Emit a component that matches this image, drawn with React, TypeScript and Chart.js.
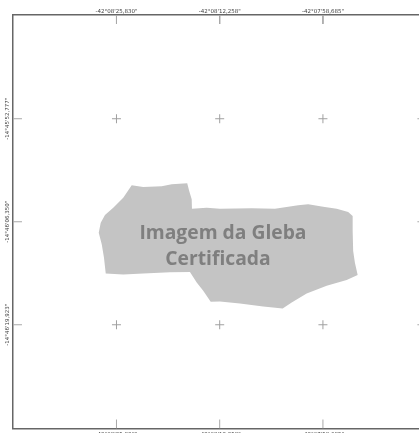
import React, { useEffect, useRef } from "react";
import { Chart, registerables } from "chart.js";

Chart.register(...registerables);

// Local map values in metres from the sheet centre
const gridEast = [-413, 0, 413];
const gridNorth = [413, 0, -413];
const lonLabels = ["-42°08'25,830\"", "-42°08'12,258\"", "-42°07'58,685\""];
const latLabels = ["-14°45'52,777\"", "-14°46'06,350\"", "-14°46'19,923\""];
const parcelEast = [-352, -306, -232, -192, -130, -122, -112, -111, -52, 1, 128, 221, 314, 354, 414, 468, 514, 532, 532, 534, 541, 552, 508, 428, 348, 288, 252, 174, 81, 1, -36, -66, -92, -119, -199, -306, -386, -456, -463, -472, -484, -476, -459, -426, -386];
const parcelNorth = [146, 139, 142, 150, 154, 123, 90, 52, 56, 52, 54, 52, 66, 70, 60, 52, 39, 23, -37, -117, -164, -214, -234, -257, -288, -324, -348, -340, -328, -320, -321, -277, -244, -201, -202, -208, -212, -208, -144, -90, -44, -4, 27, 56, 96];
const captionLines = ["Imagem da Gleba", "Certificada"];
const captionEast = [13, -7];
const captionNorth = [-46, -152];

const X_MIN = -827;
const X_MAX = 827;
const Y_MIN = -829;
const Y_MAX = 829;
const EDGE_TICK = 36;

const parcel = parcelEast.map((x, i) => ({ x, y: parcelNorth[i] }));
const crosses = gridEast.flatMap((x) => gridNorth.map((y) => ({ x, y })));
const gap = { x: null as any, y: null as any };
const edgeTicks = [
  ...gridEast.flatMap((x) => [{ x, y: Y_MAX }, { x, y: Y_MAX - EDGE_TICK }, gap, { x, y: Y_MIN }, { x, y: Y_MIN + EDGE_TICK }, gap]),
  ...gridNorth.flatMap((y) => [{ x: X_MIN, y }, { x: X_MIN + EDGE_TICK, y }, gap, { x: X_MAX, y }, { x: X_MAX - EDGE_TICK, y }, gap]),
];

const captionPlugin = {
  id: "caption",
  afterDatasetsDraw(chart: any) {
    const { ctx, scales } = chart;
    ctx.save();
    ctx.fillStyle = "#7f7f7f";
    ctx.font = '700 19.3px "Open Sans"';
    ctx.textAlign = "center";
    ctx.textBaseline = "middle";
    captionLines.forEach((t, i) => {
      ctx.fillText(t, scales.x.getPixelForValue(captionEast[i]), scales.y.getPixelForValue(captionNorth[i]));
    });
    ctx.restore();
  },
};

const frame = { display: true, color: "#666666", width: 1.5 };
const labelFont = { family: '"DejaVu Sans"', size: 5.5 };

export default function App() {
  const ref = useRef<HTMLCanvasElement>(null);
  useEffect(() => {
    document.body.style.margin = "0";
    const xAxis = (position: string, size: number, padding: number) => ({
      type: "linear",
      position,
      min: X_MIN,
      max: X_MAX,
      afterBuildTicks: (s: any) => { s.ticks = gridEast.map((value) => ({ value })); },
      afterFit: (s: any) => { s.height = size; },
      grid: { display: false, drawTicks: false },
      border: frame,
      ticks: {
        autoSkip: false,
        maxRotation: 0,
        minRotation: 0,
        padding,
        color: "#444444",
        font: labelFont,
        callback: (_: any, i: number) => lonLabels[i],
      },
    });
    const chart = new Chart(ref.current!, {
      type: "scatter",
      data: {
        datasets: [
          { data: parcel, showLine: true, fill: "shape", backgroundColor: "#c4c4c4", borderColor: "#c4c4c4", borderWidth: 0, pointRadius: 0, tension: 0 },
          { data: edgeTicks, showLine: true, spanGaps: false, borderColor: "#a8a8a8", borderWidth: 1, pointRadius: 0 },
          { data: crosses, showLine: false, pointStyle: "cross", pointRadius: 4.5, pointBorderColor: "#a0a0a0", pointBorderWidth: 1 },
        ] as any,
      },
      options: {
        responsive: false,
        animation: false,
        layout: { padding: { left: 0, top: 0, right: 6.6, bottom: 0 } },
        plugins: { legend: { display: false }, tooltip: { enabled: false }, title: { display: false } },
        scales: {
          x: xAxis("bottom", 4.5, 3),
          x2: xAxis("top", 15, 0),
          y: {
            type: "linear",
            position: "left",
            min: Y_MIN,
            max: Y_MAX,
            afterBuildTicks: (s: any) => { s.ticks = gridNorth.slice().reverse().map((value) => ({ value })); },
            afterFit: (s: any) => { s.width = 13; },
            grid: { display: false, drawTicks: false },
            border: frame,
            ticks: {
              autoSkip: false,
              minRotation: 90,
              maxRotation: 90,
              crossAlign: "center",
              padding: -16,
              color: "#444444",
              font: labelFont,
              callback: (_: any, i: number) => latLabels[2 - i],
            },
          },
        } as any,
      },
      plugins: [captionPlugin],
    });
    return () => chart.destroy();
  }, []);
  return (
    <div style={{ width: 419, height: 434, overflow: "hidden", background: "#fff" }}>
      <canvas ref={ref} width={433} height={434} style={{ display: "block", filter: "blur(0.35px)" }} />
    </div>
  );
}
